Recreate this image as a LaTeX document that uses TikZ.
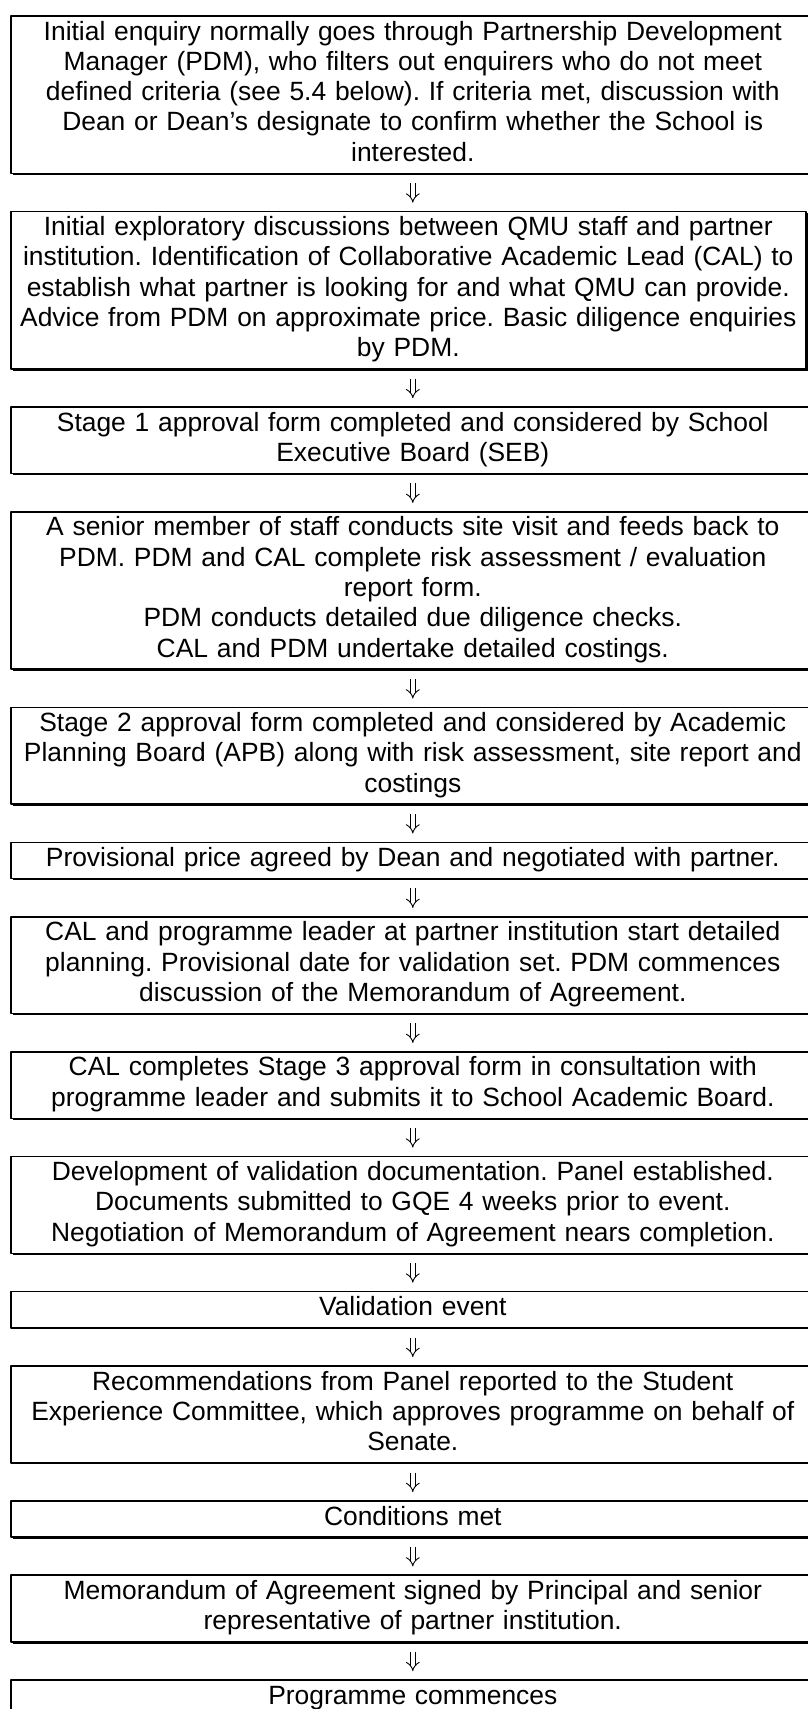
\documentclass[tikz,border=0pt]{standalone}
\usepackage{fontspec}
\setmainfont{Liberation Sans}
\frenchspacing
\usetikzlibrary{arrows.meta,positioning,shadows}

\begin{document}
\begin{tikzpicture}[x=1pt,y=-1pt,line join=round]
\path[fill=white] (0,0) rectangle (808,1709);
\useasboundingbox (0,0) rectangle (808,1709);
\tikzset{stage/.style={draw=black,fill=white,line width=1.6pt,text width=790pt,align=center,inner xsep=7pt,inner ysep=3pt,font=\fontsize{26.4}{30.3}\selectfont,execute at begin node=\strut,execute at end node=\strut,drop shadow={shadow xshift=1.7pt,shadow yshift=-1.7pt,opacity=1,fill=black}},flow/.style={draw=black,line cap=butt,double,double distance=4pt,line width=0.9pt,-{Implies},shorten <=9pt,shorten >=8pt}}
\node[stage,anchor=north west] (b1) at (10,15) {Initial enquiry normally goes through Partnership Development\\ Manager (PDM), who filters out enquirers who do not meet\\ defined criteria (see 5.4 below). If criteria met, discussion with\\ Dean or Dean’s designate to confirm whether the School is\\ interested.};
\node[stage,text width=781pt,below=36.5pt of b1.south west,anchor=north west] (b2) {Initial exploratory discussions between QMU staff and partner\\ institution. Identification of Collaborative Academic Lead (CAL) to\\ establish what partner is looking for and what QMU can provide.\\ Advice from PDM on approximate price. Basic diligence enquiries\\ by PDM.};
\node[stage,below=36.5pt of b2.south west,anchor=north west] (b3) {Stage 1 approval form completed and considered by School\\ Executive Board (SEB)};
\node[stage,below=36.5pt of b3.south west,anchor=north west] (b4) {A senior member of staff conducts site visit and feeds back to\\ PDM. PDM and CAL complete risk assessment / evaluation\\ report form.\\ PDM conducts detailed due diligence checks.\\ CAL and PDM undertake detailed costings.};
\node[stage,below=36.5pt of b4.south west,anchor=north west] (b5) {Stage 2 approval form completed and considered by Academic\\ Planning Board (APB) along with risk assessment, site report and\\ costings};
\node[stage,below=36.5pt of b5.south west,anchor=north west] (b6) {Provisional price agreed by Dean and negotiated with partner.};
\node[stage,below=36.5pt of b6.south west,anchor=north west] (b7) {CAL and programme leader at partner institution start detailed\\ planning. Provisional date for validation set. PDM commences\\ discussion of the Memorandum of Agreement.};
\node[stage,below=36.5pt of b7.south west,anchor=north west] (b8) {CAL completes Stage 3 approval form in consultation with\\ programme leader and submits it to School Academic Board.};
\node[stage,below=36.5pt of b8.south west,anchor=north west] (b9) {Development of validation documentation. Panel established.\\ Documents submitted to GQE 4 weeks prior to event.\\ Negotiation of Memorandum of Agreement nears completion.};
\node[stage,below=36.5pt of b9.south west,anchor=north west] (b10) {Validation event};
\node[stage,below=36.5pt of b10.south west,anchor=north west] (b11) {Recommendations from Panel reported to the Student\\ Experience Committee, which approves programme on behalf of\\ Senate.};
\node[stage,below=36.5pt of b11.south west,anchor=north west] (b12) {Conditions met};
\node[stage,below=36.5pt of b12.south west,anchor=north west] (b13) {Memorandum of Agreement signed by Principal and senior\\ representative of partner institution.};
\node[stage,below=36.5pt of b13.south west,anchor=north west] (b14) {Programme commences};
\foreach \u/\v in {b1/b2,b2/b3,b3/b4,b4/b5,b5/b6,b6/b7,b7/b8,b8/b9,b9/b10,b10/b11,b11/b12,b12/b13,b13/b14}
  \draw[flow] (\u.south -| b1) -- (\v.north -| b1);
\end{tikzpicture}
\end{document}
